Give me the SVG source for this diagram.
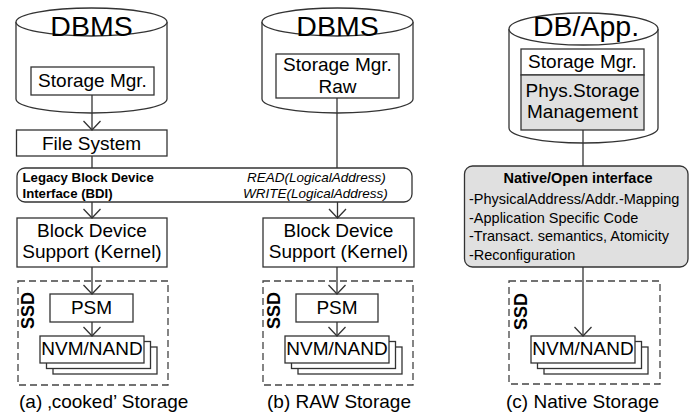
<svg xmlns="http://www.w3.org/2000/svg" width="694" height="413" viewBox="0 0 694 413">
  <style>
    text { font-family: "Liberation Sans", Arial, sans-serif; fill: #000; }
    .big { font-size: 28.5px; text-anchor: middle; }
    .mid { font-size: 19px; text-anchor: middle; }
    .cap { font-size: 19px; }
    .bdi { font-size: 13.2px; font-weight: bold; }
    .op { font-size: 13.5px; font-style: italic; }
    .ssd { font-size: 18px; font-weight: bold; text-anchor: middle; }
    .ttl { font-size: 14.5px; font-weight: bold; text-anchor: middle; }
    .lst { font-size: 14.5px; }
    .box { fill: #fff; stroke: #333; stroke-width: 1.3; }
    .gray { fill: #e0e0e0; stroke: #333; stroke-width: 1.3; }
    .dash { fill: none; stroke: #444; stroke-width: 1.3; stroke-dasharray: 7 4; }
    .wire { fill: none; stroke: #333; stroke-width: 1.3; }
  </style>
  <defs>
    <marker id="vhead" viewBox="0 0 20 20" refX="10" refY="10" markerWidth="20" markerHeight="20" markerUnits="userSpaceOnUse" orient="auto">
      <path d="M1,1.5 L10,10 L1,18.5" fill="none" stroke="#333" stroke-width="1.3"/>
    </marker>
  </defs>

  <!-- column (a): cooked storage -->
  <g id="dbms-a">
    <path class="box" d="M16,22 L16,99 A75.5,14 0 0 0 167,99 L167,22"/>
    <ellipse class="box" cx="91.5" cy="22" rx="75.5" ry="14"/>
    <text class="big" x="91.5" y="36">DBMS</text>
  </g>
  <g id="storage-mgr-a">
    <rect class="box" x="31" y="67" width="123" height="28"/>
    <text class="mid" x="92.5" y="87">Storage Mgr.</text>
  </g>
  <g id="file-system">
    <rect class="box" x="16.5" y="130" width="150.5" height="26"/>
    <text class="mid" x="91.5" y="150">File System</text>
  </g>

  <!-- column (b): raw storage -->
  <g id="dbms-b">
    <path class="box" d="M262,22 L262,99 A75.5,14 0 0 0 413,99 L413,22"/>
    <ellipse class="box" cx="337.5" cy="22" rx="75.5" ry="14"/>
    <text class="big" x="337.5" y="36">DBMS</text>
  </g>
  <g id="storage-mgr-raw">
    <rect class="box" x="276" y="54" width="123" height="44"/>
    <text class="mid" x="337.5" y="71">Storage Mgr.</text>
    <text class="mid" x="337.5" y="93">Raw</text>
  </g>

  <!-- shared legacy block device interface -->
  <g id="bdi">
    <rect class="box" x="17" y="168" width="395" height="34" rx="8" ry="8"/>
    <text class="bdi" x="22.5" y="182">Legacy Block Device</text>
    <text class="bdi" x="22.5" y="197.5">Interface (BDI)</text>
    <text class="op" x="247" y="182">READ(LogicalAddress)</text>
    <text class="op" x="243" y="197.5">WRITE(LogicalAddress)</text>
  </g>

  <g id="block-device-a">
    <rect class="box" x="17" y="218" width="150" height="49"/>
    <text class="mid" x="92" y="237">Block Device</text>
    <text class="mid" x="92" y="258">Support (Kernel)</text>
  </g>
  <g id="block-device-b">
    <rect class="box" x="263" y="218" width="151" height="49"/>
    <text class="mid" x="338.5" y="237">Block Device</text>
    <text class="mid" x="338.5" y="258">Support (Kernel)</text>
  </g>

  <!-- SSDs -->
  <g id="ssd-a">
    <rect class="dash" x="18" y="281" width="150" height="104"/>
    <text class="ssd" transform="translate(34,310.5) rotate(-90)">SSD</text>
  </g>
  <g id="psm-a">
    <rect class="box" x="50" y="294" width="83" height="28"/>
    <text class="mid" x="91.5" y="314">PSM</text>
  </g>
  <g id="nvm-a">
    <rect class="box" x="53" y="347" width="104" height="27"/>
    <rect class="box" x="46.5" y="341.5" width="104" height="27"/>
    <rect class="box" x="40" y="336" width="104" height="27"/>
    <text class="mid" x="92" y="355">NVM/NAND</text>
  </g>

  <g id="ssd-b">
    <rect class="dash" x="263" y="281" width="150" height="104"/>
    <text class="ssd" transform="translate(280,310.5) rotate(-90)">SSD</text>
  </g>
  <g id="psm-b">
    <rect class="box" x="296" y="294" width="82" height="28"/>
    <text class="mid" x="337" y="314">PSM</text>
  </g>
  <g id="nvm-b">
    <rect class="box" x="298" y="347" width="104" height="27"/>
    <rect class="box" x="291.5" y="341.5" width="104" height="27"/>
    <rect class="box" x="285" y="336" width="104" height="27"/>
    <text class="mid" x="337" y="355">NVM/NAND</text>
  </g>

  <!-- column (c): native storage -->
  <g id="db-app">
    <path class="box" d="M509,29 L509,128 A74.5,15 0 0 0 658,128 L658,29"/>
    <ellipse class="box" cx="583.5" cy="29" rx="74.5" ry="16"/>
    <text class="big" x="586" y="36">DB/App.</text>
  </g>
  <g id="storage-mgr-c">
    <rect class="box" x="521" y="49" width="123" height="26"/>
    <text class="mid" x="582.5" y="68">Storage Mgr.</text>
  </g>
  <g id="phys-storage">
    <rect class="gray" x="521" y="75" width="123" height="55"/>
    <text class="mid" x="582.5" y="97">Phys.Storage</text>
    <text class="mid" x="582.5" y="118">Management</text>
  </g>
  <g id="native-interface">
    <rect class="gray" x="464.5" y="166" width="223.5" height="101" rx="8" ry="8"/>
    <text class="ttl" x="578" y="183">Native/Open interface</text>
    <text class="lst" x="469" y="204">-PhysicalAddress/Addr.-Mapping</text>
    <text class="lst" x="469" y="222.5">-Application Specific Code</text>
    <text class="lst" x="469" y="241">-Transact. semantics, Atomicity</text>
    <text class="lst" x="469" y="259.5">-Reconfiguration</text>
  </g>
  <g id="ssd-c">
    <rect class="dash" x="509" y="281" width="151" height="103"/>
    <text class="ssd" transform="translate(526.5,311.5) rotate(-90)">SSD</text>
  </g>
  <g id="nvm-c">
    <rect class="box" x="544" y="347" width="104" height="27"/>
    <rect class="box" x="537.5" y="341.5" width="104" height="27"/>
    <rect class="box" x="531" y="336" width="104" height="27"/>
    <text class="mid" x="583" y="355">NVM/NAND</text>
  </g>

  <!-- connectors -->
  <g id="connectors">
    <line class="wire" x1="92" y1="95" x2="92" y2="130" marker-end="url(#vhead)"/>
    <line class="wire" x1="92" y1="156" x2="92" y2="168"/>
    <line class="wire" x1="337" y1="98" x2="337" y2="168"/>
    <line class="wire" x1="92" y1="202" x2="92" y2="218" marker-end="url(#vhead)"/>
    <line class="wire" x1="337.5" y1="202" x2="337.5" y2="218" marker-end="url(#vhead)"/>
    <line class="wire" x1="92" y1="267" x2="92" y2="294" marker-end="url(#vhead)"/>
    <line class="wire" x1="92" y1="322" x2="92" y2="336" marker-end="url(#vhead)"/>
    <line class="wire" x1="337" y1="267" x2="337" y2="294" marker-end="url(#vhead)"/>
    <line class="wire" x1="337" y1="322" x2="337" y2="336" marker-end="url(#vhead)"/>
    <line class="wire" x1="583" y1="130" x2="583" y2="166"/>
    <line class="wire" x1="583" y1="267" x2="583" y2="336" marker-end="url(#vhead)"/>
  </g>

  <!-- captions -->
  <text class="cap" x="19" y="408">(a) ‚cooked’ Storage</text>
  <text class="cap" x="267" y="408">(b) RAW Storage</text>
  <text class="cap" x="506" y="408">(c) Native Storage</text>
</svg>
